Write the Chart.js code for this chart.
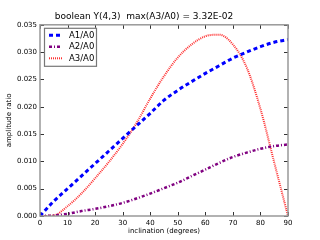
<!DOCTYPE html>
<html>
<head>
<meta charset="utf-8">
<script src="https://cdn.jsdelivr.net/npm/chart.js@4.4.1/dist/chart.umd.min.js"></script>
<style>
  html, body { margin: 0; padding: 0; background: #fff; }
  #wrap { width: 320px; height: 240px; }
</style>
</head>
<body>
<div id="wrap"><canvas id="ampChart" width="320" height="240"></canvas></div>
<script>
var inclination = [0, 5, 10, 15, 20, 25, 30, 35, 40, 45, 50, 55, 60, 65, 70, 75, 80, 85, 90];
var a1 = [0, 0.0027, 0.0050, 0.0073, 0.0096, 0.0119, 0.0142, 0.0165, 0.0188, 0.0212, 0.0230, 0.0246, 0.0261, 0.0275, 0.0289, 0.0300, 0.0310, 0.0318, 0.0323];
var a2 = [0, 0.0001, 0.0004, 0.0009, 0.0013, 0.0018, 0.0024, 0.0032, 0.0041, 0.0051, 0.0061, 0.0073, 0.0085, 0.0097, 0.0108, 0.0116, 0.0123, 0.0128, 0.0131];
var a3 = [0, 0.0001, 0.0018, 0.0041, 0.0069, 0.0099, 0.0132, 0.0170, 0.0215, 0.0256, 0.0290, 0.0314, 0.0329, 0.0332, 0.0314, 0.0272, 0.0196, 0.0098, 0];
var yTicks = [0, 0.005, 0.010, 0.015, 0.020, 0.025, 0.030, 0.035];

function pts(arr) {
    return arr.map(function (v, i) { return { x: inclination[i], y: v }; });
}

var font = "DejaVu Sans";

// box round the plot, inward ticks on all four sides, legend in the corner
var frame = {
    id: "frame",
    afterDatasetsDraw: function (chart) {
        var ctx = chart.ctx, a = chart.chartArea;
        var xs = chart.scales.x, ys = chart.scales.y;
        ctx.save();
        ctx.strokeStyle = "#000";
        ctx.lineWidth = 0.8;
        ctx.beginPath();
        xs.ticks.forEach(function (t) {
            var px = Math.round(xs.getPixelForValue(t.value)) + 0.5;
            ctx.moveTo(px, a.bottom); ctx.lineTo(px, a.bottom - 4);
            ctx.moveTo(px, a.top); ctx.lineTo(px, a.top + 4);
        });
        ys.ticks.forEach(function (t) {
            var py = Math.round(ys.getPixelForValue(t.value)) + 0.5;
            ctx.moveTo(a.left, py); ctx.lineTo(a.left + 4, py);
            ctx.moveTo(a.right, py); ctx.lineTo(a.right - 4, py);
        });
        ctx.stroke();
        ctx.strokeStyle = "#999";
        ctx.lineWidth = 1.5;
        ctx.strokeRect(a.left, a.top, a.right - a.left, a.bottom - a.top);
        ctx.restore();

        var lx = a.left + 4, ly = a.top + 3, w = 52, h = 38;
        ctx.save();
        ctx.fillStyle = "#fff";
        ctx.fillRect(lx, ly, w, h);
        ctx.strokeStyle = "#777";
        ctx.lineWidth = 1.2;
        ctx.strokeRect(lx + 0.5, ly + 0.5, w, h);
        ctx.font = "8.5px '" + font + "'";
        ctx.textBaseline = "middle";
        chart.data.datasets.forEach(function (ds, i) {
            var yy = ly + 7.5 + i * 11.5;
            ctx.strokeStyle = ds.borderColor;
            ctx.lineWidth = ds.borderWidth;
            ctx.setLineDash(ds.borderDash);
            ctx.beginPath();
            ctx.moveTo(lx + 5, yy);
            ctx.lineTo(lx + 18, yy);
            ctx.stroke();
            ctx.setLineDash([]);
            ctx.fillStyle = "#000";
            ctx.fillText(ds.label, lx + 25, yy);
        });
        ctx.restore();
    },
};

new Chart("ampChart", {
    type: "line",
    data: {
        datasets: [
            {
                label: "A1/A0",
                data: pts(a1),
                borderColor: "#0000ff",
                borderWidth: 3,
                borderDash: [4, 3],
            },
            {
                label: "A2/A0",
                data: pts(a2),
                borderColor: "#800080",
                borderWidth: 2.5,
                borderDash: [3, 2, 1, 2],
            },
            {
                label: "A3/A0",
                data: pts(a3),
                borderColor: "#ff3030",
                borderWidth: 2,
                borderDash: [1, 1],
            },
        ],
    },
    options: {
        responsive: false,
        animation: false,
        layout: { padding: { top: 0, right: 32, left: 0, bottom: 0 } },
        elements: {
            point: { radius: 0 },
            line: { cubicInterpolationMode: "monotone", fill: false },
        },
        plugins: {
            legend: { display: false },
            tooltip: { enabled: false },
            title: {
                display: true,
                text: "boolean Y(4,3)  max(A3/A0) = 3.32E-02",
                color: "#000",
                font: { family: font, size: 9, weight: "normal" },
                padding: { top: 11, bottom: 3 },
            },
        },
        scales: {
            x: {
                type: "linear",
                min: 0,
                max: 90,
                afterFit: function (s) { s.height = 24; },
                ticks: {
                    stepSize: 10,
                    color: "#000",
                    padding: 3,
                    font: { family: font, size: 7 },
                },
                grid: { display: false, drawTicks: false },
                border: { display: false },
                title: {
                    display: true,
                    text: "inclination (degrees)",
                    color: "#000",
                    padding: { top: 0, bottom: 5 },
                    font: { family: font, size: 7 },
                },
            },
            y: {
                min: 0,
                max: 0.035,
                afterFit: function (s) { s.width = 40; },
                afterBuildTicks: function (s) {
                    s.ticks = yTicks.map(function (v) { return { value: v }; });
                },
                ticks: {
                    color: "#000",
                    padding: 3,
                    font: { family: font, size: 7 },
                    callback: function (v) { return v.toFixed(3); },
                },
                grid: { display: false, drawTicks: false },
                border: { display: false },
                title: {
                    display: true,
                    text: "amplitude ratio",
                    color: "#000",
                    padding: { top: 5, bottom: 0 },
                    font: { family: font, size: 7 },
                },
            },
        },
    },
    plugins: [frame],
});
</script>
</body>
</html>
